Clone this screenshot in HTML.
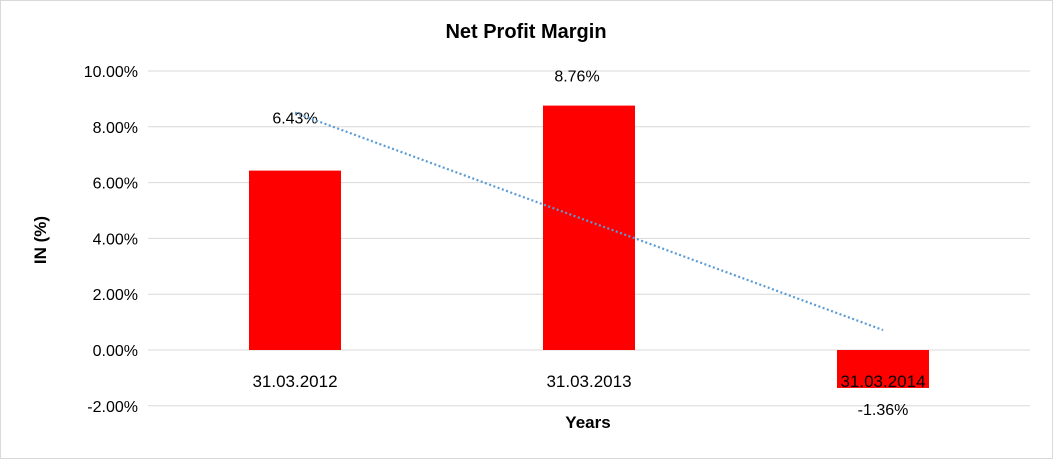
<!DOCTYPE html>
<html><head><meta charset="utf-8"><style>
body{margin:0;background:#fff}
svg{display:block;font-family:"Liberation Sans",Arial,sans-serif}
</style></head><body>
<svg width="1053" height="459">
<rect x="0.5" y="0.5" width="1052" height="458" fill="#fff" stroke="#d9d9d9"/>
<text x="526" y="38" text-anchor="middle" font-size="20" font-weight="bold">Net Profit Margin</text>
<text transform="translate(46,240) rotate(-90)" text-anchor="middle" font-size="17" font-weight="bold">IN (%)</text>
<text x="588" y="428" text-anchor="middle" font-size="17" font-weight="bold">Years</text>
<g id="grid"></g><g id="bars"></g><g id="labels"></g>
</svg>
<script>
const categories=["31.03.2012","31.03.2013","31.03.2014"];
const values=[6.43,8.76,-1.36];
const valueLabels=["6.43%","8.76%","-1.36%"];
const ticks=[-2,0,2,4,6,8,10];
const tickLabels=["-2.00%","0.00%","2.00%","4.00%","6.00%","8.00%","10.00%"];
const NS="http://www.w3.org/2000/svg";
const x0=148,x1=1030,y0=350,pp=27.9;
const y=v=>y0-v*pp;
const band=(x1-x0)/categories.length;
const cx=i=>x0+band*(i+0.5);
const labelOffsets=[-47,-24,27];
function mk(t,a,p,txt){const e=document.createElementNS(NS,t);for(const k in a)e.setAttribute(k,a[k]);if(txt!=null)e.textContent=txt;p.appendChild(e);return e;}
const g=document.getElementById('grid'),b=document.getElementById('bars'),l=document.getElementById('labels');
ticks.forEach((t,i)=>{
const ln=mk('line',{x1:x0,x2:x1,y1:y(t),y2:y(t),stroke:'#d9d9d9'},g);


const tx=mk('text',{x:138,y:y(t)+6,'text-anchor':'end','font-size':16},g,tickLabels[i]);


});
values.forEach((v,i)=>{
const r=mk('rect',{x:cx(i)-46,width:92,y:Math.min(y(v),y0),height:Math.abs(y(v)-y0),fill:'#ff0000'},b);


const c=mk('text',{x:cx(i),y:387,'text-anchor':'middle','font-size':17},l,categories[i]);


const vl=mk('text',{x:cx(i)-(i==1?12:0),y:y(v)+labelOffsets[i],'text-anchor':'middle','font-size':16},l,valueLabels[i]);


});
const n=values.length,mx=(n-1)/2,my=values.reduce((a,c)=>a+c,0)/n;
let sxy=0,sxx=0;values.forEach((v,i)=>{sxy+=(i-mx)*(v-my);sxx+=(i-mx)*(i-mx);});
const sl=sxy/sxx,ic=my-sl*mx;
const tl=mk('line',{x1:cx(0),y1:y(ic),x2:cx(n-1),y2:y(ic+sl*(n-1)),stroke:'#5b9bd5','stroke-width':2.2,'stroke-dasharray':'2 2.5'},l);


</script>
</body></html>
